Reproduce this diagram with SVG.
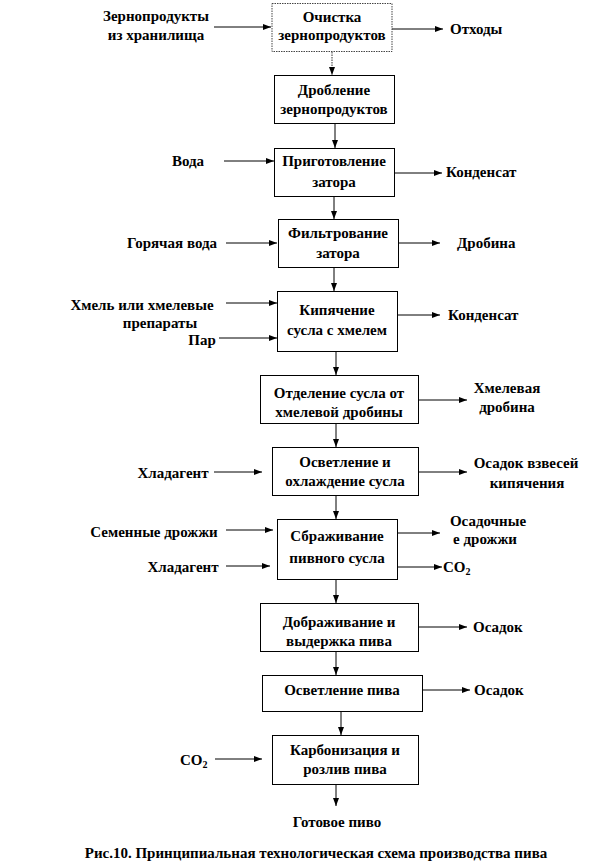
<svg xmlns="http://www.w3.org/2000/svg" width="616" height="864" viewBox="0 0 616 864">
<defs>
<marker id="ah" markerUnits="userSpaceOnUse" markerWidth="8" markerHeight="6" refX="8" refY="3" orient="auto">
<path d="M0,0 L8,3 L0,6 z" fill="#000"/>
</marker>
</defs>
<rect width="616" height="864" fill="#fff"/>
<g id="connectors" stroke="#000" stroke-width="1" fill="none" marker-end="url(#ah)">
<line stroke="#333" stroke-dasharray="1.5 1" x1="332" y1="52" x2="332" y2="75"/>
<line x1="335" y1="123" x2="335" y2="148"/>
<line x1="334" y1="196" x2="334" y2="219"/>
<line x1="334" y1="268" x2="334" y2="291"/>
<line x1="336" y1="352" x2="336" y2="375"/>
<line x1="336" y1="424" x2="336" y2="447"/>
<line x1="336" y1="495" x2="336" y2="519"/>
<line x1="336" y1="579" x2="336" y2="603"/>
<line x1="336" y1="652" x2="336" y2="675"/>
<line x1="341" y1="712" x2="341" y2="735"/>
<line x1="336" y1="785" x2="336" y2="806"/>
<line x1="214" y1="27" x2="271" y2="27"/>
<line x1="224" y1="161" x2="274" y2="161"/>
<line x1="226" y1="243" x2="277" y2="243"/>
<line x1="226" y1="303" x2="277" y2="303"/>
<line x1="219" y1="338" x2="277" y2="338"/>
<line x1="214" y1="472" x2="262" y2="472"/>
<line x1="226" y1="530" x2="273" y2="530"/>
<line x1="226" y1="566" x2="270" y2="566"/>
<line x1="215" y1="759" x2="262" y2="759"/>
<line x1="392" y1="29" x2="443" y2="29"/>
<line x1="394" y1="173" x2="442" y2="173"/>
<line x1="398" y1="243" x2="440" y2="243"/>
<line x1="398" y1="315" x2="440" y2="315"/>
<line x1="418" y1="400" x2="467" y2="400"/>
<line x1="418" y1="472" x2="467" y2="472"/>
<line x1="397" y1="533" x2="440" y2="533"/>
<line x1="394" y1="567" x2="442" y2="567"/>
<line x1="418" y1="627" x2="467" y2="627"/>
<line x1="423" y1="690" x2="470" y2="690"/>
</g>
<g id="nodes" fill="#fff" stroke="#000" stroke-width="1">
<g id="n1"><rect stroke="#444" stroke-dasharray="1.5 1" x="272" y="3.5" width="120" height="48"/><text font-family="Liberation Serif" font-weight="bold" font-size="15" fill="#000" stroke="none" text-anchor="middle" x="332" y="22">Очистка</text><text font-family="Liberation Serif" font-weight="bold" font-size="15" fill="#000" stroke="none" text-anchor="middle" x="332" y="40">зернопродуктов</text></g>
<g id="n2"><rect x="274.5" y="75.5" width="120" height="48"/><text font-family="Liberation Serif" font-weight="bold" font-size="15" fill="#000" stroke="none" text-anchor="middle" x="334" y="95">Дробление</text><text font-family="Liberation Serif" font-weight="bold" font-size="15" fill="#000" stroke="none" text-anchor="middle" x="334" y="114">зернопродуктов</text></g>
<g id="n3"><rect x="274.5" y="148.5" width="120" height="48"/><text font-family="Liberation Serif" font-weight="bold" font-size="15" fill="#000" stroke="none" text-anchor="middle" x="334" y="166">Приготовление</text><text font-family="Liberation Serif" font-weight="bold" font-size="15" fill="#000" stroke="none" text-anchor="middle" x="334" y="187">затора</text></g>
<g id="n4"><rect x="278.5" y="219.5" width="120" height="48"/><text font-family="Liberation Serif" font-weight="bold" font-size="15" fill="#000" stroke="none" text-anchor="middle" x="338" y="238">Фильтрование</text><text font-family="Liberation Serif" font-weight="bold" font-size="15" fill="#000" stroke="none" text-anchor="middle" x="338" y="258">затора</text></g>
<g id="n5"><rect x="277.5" y="291.5" width="120" height="60"/><text font-family="Liberation Serif" font-weight="bold" font-size="15" fill="#000" stroke="none" text-anchor="middle" x="337" y="315">Кипячение</text><text font-family="Liberation Serif" font-weight="bold" font-size="15" fill="#000" stroke="none" text-anchor="middle" x="337" y="335">сусла с хмелем</text></g>
<g id="n6"><rect x="260.5" y="375.5" width="158" height="48"/><text font-family="Liberation Serif" font-weight="bold" font-size="15" fill="#000" stroke="none" text-anchor="middle" x="339" y="398">Отделение сусла от</text><text font-family="Liberation Serif" font-weight="bold" font-size="15" fill="#000" stroke="none" text-anchor="middle" x="339" y="417">хмелевой дробины</text></g>
<g id="n7"><rect x="272.5" y="447.5" width="146" height="48"/><text font-family="Liberation Serif" font-weight="bold" font-size="15" fill="#000" stroke="none" text-anchor="middle" x="345" y="467">Осветление и</text><text font-family="Liberation Serif" font-weight="bold" font-size="15" fill="#000" stroke="none" text-anchor="middle" x="345" y="486">охлаждение сусла</text></g>
<g id="n8"><rect x="277.5" y="519.5" width="120" height="60"/><text font-family="Liberation Serif" font-weight="bold" font-size="15" fill="#000" stroke="none" text-anchor="middle" x="337" y="541">Сбраживание</text><text font-family="Liberation Serif" font-weight="bold" font-size="15" fill="#000" stroke="none" text-anchor="middle" x="337" y="563">пивного сусла</text></g>
<g id="n9"><rect x="260.5" y="603.5" width="158" height="48"/><text font-family="Liberation Serif" font-weight="bold" font-size="15" fill="#000" stroke="none" text-anchor="middle" x="339" y="627">Дображивание и</text><text font-family="Liberation Serif" font-weight="bold" font-size="15" fill="#000" stroke="none" text-anchor="middle" x="339" y="646">выдержка пива</text></g>
<g id="n10"><rect x="262.5" y="675.5" width="160" height="36"/><text font-family="Liberation Serif" font-weight="bold" font-size="15" fill="#000" stroke="none" text-anchor="middle" x="342" y="695">Осветление пива</text></g>
<g id="n11"><rect x="272.5" y="735.5" width="146" height="49"/><text font-family="Liberation Serif" font-weight="bold" font-size="15" fill="#000" stroke="none" text-anchor="middle" x="345" y="755">Карбонизация и</text><text font-family="Liberation Serif" font-weight="bold" font-size="15" fill="#000" stroke="none" text-anchor="middle" x="345" y="774">розлив пива</text></g>
</g>
<g id="labels">
<text font-family="Liberation Serif" font-weight="bold" font-size="15" text-anchor="middle" x="156" y="21">Зернопродукты</text>
<text font-family="Liberation Serif" font-weight="bold" font-size="15" text-anchor="middle" x="156" y="40">из хранилища</text>
<text font-family="Liberation Serif" font-weight="bold" font-size="15" text-anchor="middle" x="188" y="166">Вода</text>
<text font-family="Liberation Serif" font-weight="bold" font-size="15" text-anchor="middle" x="172" y="248">Горячая вода</text>
<text font-family="Liberation Serif" font-weight="bold" font-size="15" text-anchor="middle" x="142" y="310">Хмель или хмелевые</text>
<text font-family="Liberation Serif" font-weight="bold" font-size="15" text-anchor="middle" x="160" y="328">препараты</text>
<text font-family="Liberation Serif" font-weight="bold" font-size="15" text-anchor="middle" x="202" y="345">Пар</text>
<text font-family="Liberation Serif" font-weight="bold" font-size="15" text-anchor="middle" x="173" y="478">Хладагент</text>
<text font-family="Liberation Serif" font-weight="bold" font-size="15" text-anchor="middle" x="154" y="537">Семенные дрожжи</text>
<text font-family="Liberation Serif" font-weight="bold" font-size="15" text-anchor="middle" x="183" y="572">Хладагент</text>
<text font-family="Liberation Serif" font-weight="bold" font-size="15" x="180" y="765">CO<tspan font-size="10" dy="3">2</tspan></text>
<text font-family="Liberation Serif" font-weight="bold" font-size="15" x="450" y="34">Отходы</text>
<text font-family="Liberation Serif" font-weight="bold" font-size="15" x="446" y="177">Конденсат</text>
<text font-family="Liberation Serif" font-weight="bold" font-size="15" x="457" y="248">Дробина</text>
<text font-family="Liberation Serif" font-weight="bold" font-size="15" x="448" y="320">Конденсат</text>
<text font-family="Liberation Serif" font-weight="bold" font-size="15" text-anchor="middle" x="507" y="393">Хмелевая</text>
<text font-family="Liberation Serif" font-weight="bold" font-size="15" text-anchor="middle" x="507" y="412">дробина</text>
<text font-family="Liberation Serif" font-weight="bold" font-size="15" text-anchor="middle" x="526" y="468">Осадок взвесей</text>
<text font-family="Liberation Serif" font-weight="bold" font-size="15" text-anchor="middle" x="527" y="488">кипячения</text>
<text font-family="Liberation Serif" font-weight="bold" font-size="15" text-anchor="middle" x="488" y="526">Осадочные</text>
<text font-family="Liberation Serif" font-weight="bold" font-size="15" text-anchor="middle" x="485" y="544">е дрожжи</text>
<text font-family="Liberation Serif" font-weight="bold" font-size="15" x="443" y="572">CO<tspan font-size="10" dy="3">2</tspan></text>
<text font-family="Liberation Serif" font-weight="bold" font-size="15" x="473" y="632">Осадок</text>
<text font-family="Liberation Serif" font-weight="bold" font-size="15" x="474" y="695">Осадок</text>
<text font-family="Liberation Serif" font-weight="bold" font-size="15" text-anchor="middle" x="337" y="827">Готовое пиво</text>
<text font-family="Liberation Serif" font-weight="bold" font-size="15" text-anchor="middle" x="316" y="858">Рис.10. Принципиальная технологическая схема производства пива</text>
</g>
</svg>
